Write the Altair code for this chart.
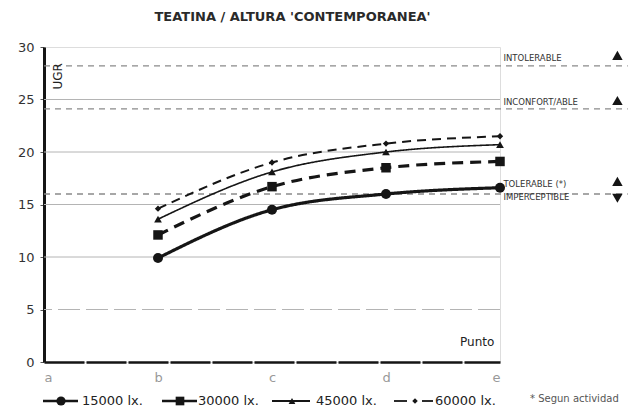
import altair as alt
import pandas as pd

# ---- data ----
points = ["a", "b", "c", "d", "e"]
x_idx = [1, 2, 3, 4]                     # b, c, d, e
s15000 = [9.9, 14.5, 16.0, 16.6]
s30000 = [12.1, 16.7, 18.5, 19.1]
s45000 = [13.6, 18.1, 20.0, 20.7]
s60000 = [14.6, 19.0, 20.8, 21.5]
series_names = ["15000 lx.", "30000 lx.", "45000 lx.", "60000 lx."]
y_ticks = [0, 5, 10, 15, 20, 25, 30]
grid_solid = [10, 15, 20, 25]
grid_dashed = [5]
ref_levels = [28.2, 24.1, 16.0]
level_labels = ["INTOLERABLE", "INCONFORT/ABLE", "TOLERABLE (*)", "IMPERCEPTIBLE"]
level_label_y = [29.0, 24.8, 17.0, 15.7]
level_shapes = ["triangle-up", "triangle-up", "triangle-up", "triangle-down"]
level_arrow_y = [29.2, 24.9, 17.2, 15.6]

FONT = "DejaVu Sans"
INK = "#151515"

label_expr = "[" + ",".join("'%s'" % p for p in points) + "][datum.value]"

XSC = alt.Scale(domain=[0, 4], nice=False, zero=False)
YSC = alt.Scale(domain=[0, 30], nice=False, zero=False)
XAX = alt.Axis(values=[0, 1, 2, 3, 4], labelExpr=label_expr, title=None, grid=False,
               ticks=False, labelPadding=9, labelFont=FONT, labelFontSize=13,
               labelColor="#999999", domainColor=INK, domainWidth=2.5,
               domainDash=[40, 2])
YAX = alt.Axis(values=y_ticks, title=None, grid=False, tickSize=4, tickColor="#555",
               labelPadding=6, labelFont=FONT, labelFontSize=13, labelColor="#333333",
               domainColor=INK, domainWidth=3)


def X(f):
    return alt.X(f, type="quantitative", scale=XSC, axis=XAX)


def Y(f):
    return alt.Y(f, type="quantitative", scale=YSC, axis=YAX)


layers = []

# grid
layers.append(alt.Chart(pd.DataFrame({"v": grid_solid})).mark_rule(
    color="#b4b4b4", strokeWidth=1).encode(y=Y("v")))
layers.append(alt.Chart(pd.DataFrame({"v": grid_dashed})).mark_rule(
    color="#b4b4b4", strokeWidth=1, strokeDash=[22, 6]).encode(y=Y("v")))

# reference dashed levels (extend beyond plot)
ref_df = pd.DataFrame({"x0": [0.0] * len(ref_levels), "x1": [5.12] * len(ref_levels),
                       "v": ref_levels})
layers.append(alt.Chart(ref_df).mark_rule(
    color="#8a8a8a", strokeWidth=1.3, strokeDash=[6, 5], clip=False).encode(
    x=X("x0"), x2="x1", y=Y("v")))

# series
styles = [
    dict(vals=s15000, dash=[1, 0], sw=3.2, shape="circle", size=100),
    dict(vals=s30000, dash=[11, 7], sw=3.2, shape="square", size=90),
    dict(vals=s45000, dash=[1, 0], sw=1.6, shape="triangle-up", size=60),
    dict(vals=s60000, dash=[9, 6], sw=2.0, shape="diamond", size=40),
]
for name, st in zip(series_names, styles):
    df = pd.DataFrame({"x": x_idx, "y": st["vals"], "s": [name] * len(x_idx)})
    base = alt.Chart(df)
    layers.append(base.mark_line(color=INK, strokeWidth=st["sw"], strokeDash=st["dash"],
                                 interpolate="monotone").encode(x=X("x"), y=Y("y")))
    layers.append(base.mark_point(shape=st["shape"], filled=True, color=INK, opacity=1,
                                  size=st["size"]).encode(x=X("x"), y=Y("y")))

# level labels on the right
lab_df = pd.DataFrame({"x": [4.03] * 4, "y": level_label_y, "t": level_labels})
layers.append(alt.Chart(lab_df).mark_text(
    align="left", baseline="middle", font=FONT, fontSize=8.5, color="#333333",
    clip=False).encode(x=X("x"), y=Y("y"), text="t:N"))
arr_df = pd.DataFrame({"x": [5.03] * 4, "y": level_arrow_y, "sh": level_shapes})
for sh in ["triangle-up", "triangle-down"]:
    layers.append(alt.Chart(arr_df[arr_df.sh == sh]).mark_point(
        shape=sh, filled=True, color=INK, opacity=1, size=110, clip=False).encode(
        x=X("x"), y=Y("y")))

# axis title, "Punto", chart title
layers.append(alt.Chart(pd.DataFrame({"x": [0.12], "y": [27.2], "t": ["UGR"]})).mark_text(
    angle=270, font=FONT, fontSize=12, color="#222", baseline="middle", align="center"
    ).encode(x=X("x"), y=Y("y"), text="t:N"))
layers.append(alt.Chart(pd.DataFrame({"x": [3.95], "y": [1.9], "t": ["Punto"]})).mark_text(
    font=FONT, fontSize=12, color="#222", baseline="middle", align="right").encode(
    x=X("x"), y=Y("y"), text="t:N"))
layers.append(alt.Chart(pd.DataFrame({"x": [2.18], "y": [32.85],
                                      "t": ["TEATINA / ALTURA 'CONTEMPORANEA'"]})).mark_text(
    font=FONT, fontSize=13, fontWeight="bold", color="#2a2a2a", baseline="middle",
    align="center", clip=False).encode(x=X("x"), y=Y("y"), text="t:N"))

# manual legend (pixel layout relative to plot origin)
one = pd.DataFrame({"k": [0]})
LY = 354
leg_layout = [
    dict(segs=[(-1, 34)], mk=17, tx=38),
    dict(segs=[(118, 153)], mk=136, tx=154),
    dict(segs=[(228, 266)], mk=248, tx=272),
    dict(segs=[(350, 363), (378, 389)], mk=371, tx=391),
]
for name, st, lay in zip(series_names, styles, leg_layout):
    for a, b in lay["segs"]:
        layers.append(alt.Chart(one).mark_rule(color=INK, strokeWidth=2.6 if st["sw"] > 2 else 1.8).encode(
            x=alt.value(a), x2=alt.value(b), y=alt.value(LY)))
    layers.append(alt.Chart(one).mark_point(shape=st["shape"], filled=True, color=INK,
                                            opacity=1, size=max(st["size"] - 15, 30)).encode(
        x=alt.value(lay["mk"]), y=alt.value(LY)))
    layers.append(alt.Chart(one).mark_text(text=name, font=FONT, fontSize=13, color="#222",
                                           align="left", baseline="middle").encode(
        x=alt.value(lay["tx"]), y=alt.value(LY)))
layers.append(alt.Chart(one).mark_text(text="* Segun actividad", font=FONT, fontSize=10,
                                       color="#555", align="left", baseline="middle").encode(
    x=alt.value(486), y=alt.value(LY - 2)))

chart = alt.layer(*layers).properties(
    width=456, height=315,
    autosize=alt.AutoSizeParams(type="none"),
    padding={"left": 36, "top": 39, "right": 134, "bottom": 45},
).configure_view(stroke=INK, strokeWidth=2).configure(background="white")

chart.save("out.html", embed_options={"renderer": "svg", "actions": False})
